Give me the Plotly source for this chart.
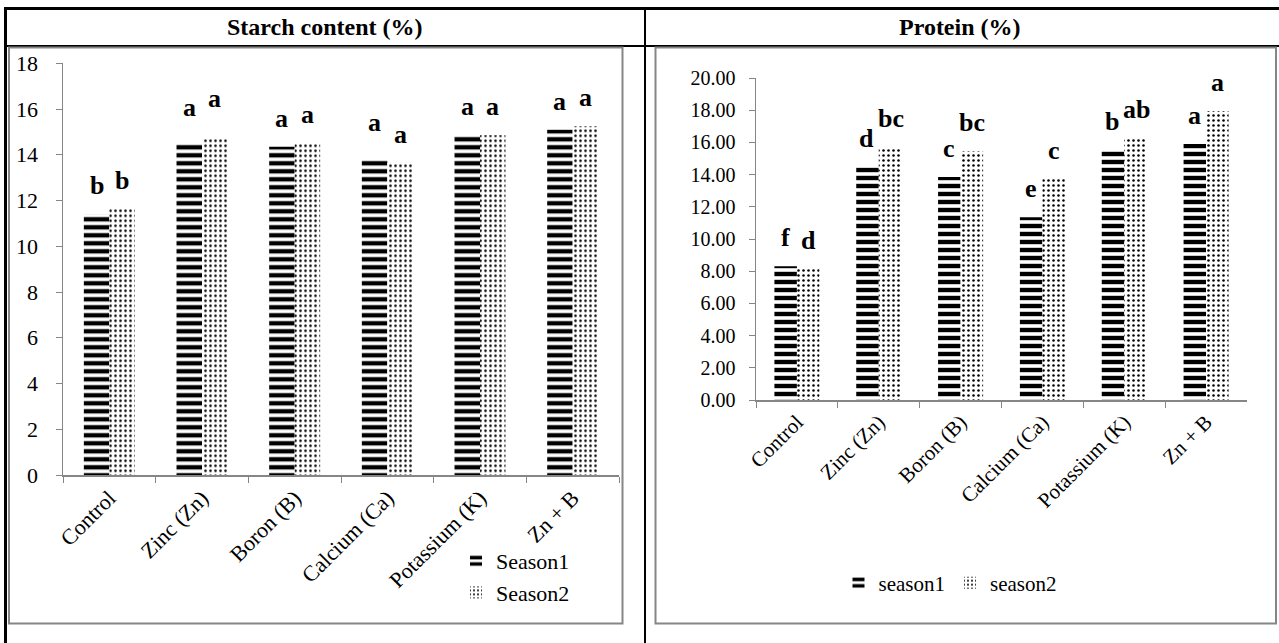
import plotly.graph_objects as go

# ---------------- data ----------------
categories = ["Control", "Zinc (Zn)", "Boron (B)", "Calcium (Ca)", "Potassium (K)", "Zn + B"]

starch_season1 = [11.4, 14.5, 14.35, 13.8, 14.85, 15.1]
starch_season2 = [11.65, 14.7, 14.5, 13.65, 14.85, 15.25]
starch_letters1 = ["b", "a", "a", "a", "a", "a"]
starch_letters2 = ["b", "a", "a", "a", "a", "a"]

protein_season1 = [8.3, 14.45, 13.85, 11.35, 15.5, 15.9]
protein_season2 = [8.15, 15.7, 15.45, 13.75, 16.3, 17.95]
protein_letters1 = ["f", "d", "c", "e", "b", "a"]
protein_letters2 = ["d", "bc", "bc", "c", "ab", "a"]

starch_ticks = list(range(0, 19, 2))
protein_ticks = list(range(0, 21, 2))

# ---------------- layout helpers ----------------
W, H = 1279, 643
def px(x):
    return x / W
def py(y):
    return 1 - y / H

FONT = "Liberation Serif, Times New Roman, DejaVu Serif, serif"
AXIS_GRAY = "#868686"

left_dom_x = [px(63), px(619)]
left_dom_y = [py(475), py(63.3)]
right_dom_x = [px(756), px(1247)]
right_dom_y = [py(400), py(78)]
BARGAP_L = 0.45
BARGAP_R = 0.425

stripe = dict(shape="-", fgcolor="black", bgcolor="white", fgopacity=1, size=8, solidity=0.55)
dots = dict(shape=".", fgcolor="black", bgcolor="white", fgopacity=1, size=5, solidity=0.2)

fig = go.Figure()

fig.add_trace(go.Bar(x=categories, y=starch_season1, name="Season1", xaxis="x", yaxis="y",
                     marker=dict(color="black", line=dict(width=0), pattern=stripe), legend="legend"))
fig.add_trace(go.Bar(x=categories, y=starch_season2, name="Season2", xaxis="x", yaxis="y",
                     marker=dict(color="black", line=dict(width=0), pattern=dots), legend="legend"))
fig.add_trace(go.Bar(x=categories, y=protein_season1, name="season1", xaxis="x2", yaxis="y2",
                     marker=dict(color="black", line=dict(width=0), pattern=stripe), legend="legend2"))
fig.add_trace(go.Bar(x=categories, y=protein_season2, name="season2", xaxis="x2", yaxis="y2",
                     marker=dict(color="black", line=dict(width=0), pattern=dots), legend="legend2"))

annotations = []
def add_letters(values, letters, xref, yref, dom, bargap, side, lifts):
    cat_px = (dom[1] - dom[0]) * W / len(categories)
    bar_px = cat_px * (1 - bargap) / 2
    for cat, v, t, lift in zip(categories, values, letters, lifts):
        annotations.append(dict(x=cat, y=v, xref=xref, yref=yref, text=f"<b>{t}</b>",
                                showarrow=False, xanchor="center", yanchor="bottom",
                                xshift=side * bar_px / 2, yshift=12 + lift,
                                font=dict(family=FONT, size=26, color="black")))

add_letters(starch_season1, starch_letters1, "x", "y", left_dom_x, BARGAP_L, -1, [0, 7, 0, 8, 0, 0])
add_letters(starch_season2, starch_letters2, "x", "y", left_dom_x, BARGAP_L, 1, [0, 12, 0, 0, 0, 0])
add_letters(protein_season1, protein_letters1, "x2", "y2", right_dom_x, BARGAP_R, -1, [0] * 6)
add_letters(protein_season2, protein_letters2, "x2", "y2", right_dom_x, BARGAP_R, 1, [0] * 6)

annotations.append(dict(x=px(325), y=py(27), xref="paper", yref="paper", text="<b>Starch content (%)</b>",
                        showarrow=False, xanchor="center", yanchor="middle",
                        font=dict(family=FONT, size=24, color="black")))
annotations.append(dict(x=px(960), y=py(27), xref="paper", yref="paper", text="<b>Protein (%)</b>",
                        showarrow=False, xanchor="center", yanchor="middle",
                        font=dict(family=FONT, size=24, color="black")))

shapes = [
    dict(type="line", xref="paper", yref="paper", x0=px(4), x1=1, y0=py(8.5), y1=py(8.5),
         line=dict(color="black", width=3)),
    dict(type="line", xref="paper", yref="paper", x0=px(4), x1=1, y0=py(46), y1=py(46),
         line=dict(color="black", width=2)),
    dict(type="line", xref="paper", yref="paper", x0=px(5.5), x1=px(5.5), y0=py(7), y1=0,
         line=dict(color="black", width=3)),
    dict(type="line", xref="paper", yref="paper", x0=px(645), x1=px(645), y0=py(7), y1=0,
         line=dict(color="black", width=2)),
    dict(type="rect", xref="paper", yref="paper", x0=px(9), x1=px(622.5), y0=py(623.5), y1=py(47.5),
         line=dict(color=AXIS_GRAY, width=2)),
    dict(type="rect", xref="paper", yref="paper", x0=px(655.5), x1=px(1276), y0=py(623.5), y1=py(47.5),
         line=dict(color=AXIS_GRAY, width=2)),
]

def tf(size):
    return dict(family=FONT, size=size, color="black")

xaxis_common = dict(type="category", showline=True, linecolor=AXIS_GRAY, linewidth=1.5,
                    ticks="outside", tickson="boundaries", ticklen=6, tickcolor=AXIS_GRAY,
                    tickangle=-45, showgrid=False, zeroline=False, automargin=False)
yaxis_common = dict(showline=True, linecolor=AXIS_GRAY, linewidth=1.5, ticks="outside", ticklen=6,
                    tickcolor=AXIS_GRAY, showgrid=False, zeroline=False, automargin=False)

fig.update_layout(
    width=W, height=H, autosize=False,
    margin=dict(l=0, r=0, t=0, b=0, pad=0, autoexpand=False),
    paper_bgcolor="white", plot_bgcolor="white",
    font=dict(family=FONT, color="black"),
    barmode="group",
    bargap=BARGAP_L, bargroupgap=0,
    xaxis=dict(domain=left_dom_x, anchor="y", tickfont=tf(22), **xaxis_common),
    yaxis=dict(domain=left_dom_y, anchor="x", range=[0, 18], tickvals=starch_ticks,
               tickfont=tf(22), ticklabelstandoff=13, **yaxis_common),
    xaxis2=dict(domain=right_dom_x, anchor="y2", tickfont=tf(21), **xaxis_common),
    yaxis2=dict(domain=right_dom_y, anchor="x2", range=[0, 20], tickvals=protein_ticks,
                tickformat=".2f", tickfont=tf(20), ticklabelstandoff=9, **yaxis_common),
    legend=dict(x=px(456), y=py(540), xanchor="left", yanchor="top", orientation="v",
                font=tf(22), bgcolor="rgba(0,0,0,0)", tracegroupgap=8, itemwidth=30),
    legend2=dict(x=px(950), y=py(583), xanchor="center", yanchor="middle", orientation="h",
                 font=tf(21), bgcolor="rgba(0,0,0,0)", itemwidth=30),
    annotations=annotations,
    shapes=shapes,
    showlegend=True,
)

fig.write_html("out.html", config={"staticPlot": True, "displayModeBar": False},
               post_script="document.body.style.margin='0';document.body.style.overflow='hidden';")
